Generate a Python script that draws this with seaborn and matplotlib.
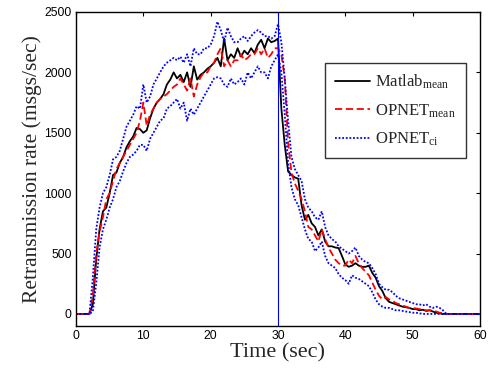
import numpy as np
import pandas as pd
import matplotlib
matplotlib.use("Agg")
import matplotlib.pyplot as plt
import seaborn as sns

# time grid (sec)
time = [i * 0.5 for i in range(121)]

matlab_mean = [
    0, 0, 0, 0, 0, 80, 450, 700, 850, 880,
    1000, 1150, 1170, 1250, 1300, 1380, 1430, 1470, 1540, 1530,
    1500, 1520, 1620, 1700, 1750, 1780, 1820, 1900, 1940, 2000,
    1950, 1980, 1920, 2000, 1880, 2050, 1940, 1980, 2000, 2030,
    2050, 2080, 2120, 2050, 2280, 2100, 2150, 2120, 2200, 2130,
    2180, 2150, 2200, 2160, 2230, 2270, 2200, 2280, 2250, 2260,
    2280, 1700, 1400, 1180, 1150, 1130, 1120, 900, 780, 820,
    750, 720, 650, 700, 600, 560, 560, 550, 545, 480,
    410, 390, 400, 420, 400, 390, 390, 400, 340, 300,
    230, 190, 130, 100, 90, 80, 70, 60, 55, 50,
    40, 40, 30, 35, 25, 30, 20, 10, 5, 0,
    0, 0, 0, 0, 0, 0, 0, 0, 0, 0,
    0,
]

opnet_mean = [
    0, 0, 0, 0, 0, 150, 500, 680, 800, 950,
    1000, 1100, 1200, 1250, 1300, 1350, 1400, 1450, 1500, 1600,
    1750, 1560, 1650, 1700, 1750, 1780, 1800, 1820, 1850, 1880,
    1900, 1950, 1900, 1850, 1950, 1800, 1900, 1960, 2000, 2000,
    2050, 2080, 2150, 2200, 2050, 2100, 2050, 2100, 2100, 2150,
    2100, 2120, 2150, 2150, 2200, 2150, 2200, 2120, 2150, 2200,
    2200, 2150, 1950, 1420, 1170, 1080, 1020, 950, 850, 720,
    700, 650, 600, 700, 620, 550, 500, 450, 420, 400,
    400, 450, 420, 480, 420, 380, 350, 320, 260, 200,
    150, 120, 140, 120, 110, 90, 80, 70, 60, 50,
    50, 45, 40, 35, 30, 30, 30, 20, 10, 5,
    0, 0, 0, 0, 0, 0, 0, 0, 0, 0,
    0,
]

opnet_ci_upper = [
    0, 0, 0, 0, 0, 300, 700, 880, 1000, 1050,
    1150, 1280, 1300, 1350, 1450, 1550, 1600, 1650, 1720, 1700,
    1900, 1750, 1800, 1900, 1950, 2000, 2050, 2080, 2100, 2120,
    2100, 2130, 2080, 2150, 2050, 2200, 2150, 2150, 2200, 2200,
    2230, 2300, 2420, 2350, 2250, 2370, 2300, 2250, 2250, 2280,
    2300, 2260, 2300, 2330, 2350, 2330, 2300, 2300, 2280, 2300,
    2400, 2250, 1950, 1600, 1300, 1200, 1150, 1100, 950, 880,
    850, 800, 780, 850, 720, 650, 620, 600, 560, 540,
    520, 500, 520, 550, 480, 450, 430, 420, 380, 330,
    250, 220, 200, 200, 180, 150, 130, 120, 110, 100,
    90, 80, 80, 70, 80, 60, 50, 60, 50, 30,
    0, 0, 0, 0, 0, 0, 0, 0, 0, 0,
    0,
]

opnet_ci_lower = [
    0, 0, 0, 0, 0, 20, 250, 550, 700, 780,
    880, 950, 1050, 1100, 1180, 1250, 1300, 1320, 1350, 1400,
    1400, 1350, 1450, 1500, 1550, 1600, 1620, 1700, 1720, 1750,
    1780, 1700, 1750, 1600, 1700, 1650, 1700, 1750, 1800, 1850,
    1900, 1950, 1960, 1950, 1900, 1880, 1950, 1900, 1920, 1950,
    1900, 2000, 1950, 2000, 2050, 2000, 2000, 1950, 2050, 2100,
    2150, 2000, 1650, 1250, 1050, 950, 900, 800, 700, 620,
    600, 520, 550, 600, 480, 420, 400, 380, 330, 300,
    280, 250, 320, 300, 290, 270, 250, 230, 180, 120,
    80, 60, 50, 50, 40, 30, 30, 25, 20, 15,
    10, 10, 5, 0, 0, 0, 0, 0, 0, 0,
    0, 0, 0, 0, 0, 0, 0, 0, 0, 0,
    0,
]

x_ticks = [0, 10, 20, 30, 40, 50, 60]
y_ticks = [0, 500, 1000, 1500, 2000, 2500]
event_time = 30

sns.set_style("white")
plt.rcParams["mathtext.fontset"] = "custom"
plt.rcParams["mathtext.rm"] = "Liberation Serif"
plt.rcParams["mathtext.it"] = "Liberation Serif:italic"

fig = plt.figure(figsize=(4.88, 3.69), dpi=100)
ax = fig.add_axes([76 / 488, 1 - 326 / 369, (480 - 76) / 488, (326 - 12) / 369])

sns.lineplot(x=time, y=matlab_mean, ax=ax, color="black", lw=1.3,
             label=r"Matlab$_{\mathrm{mean}}$")
sns.lineplot(x=time, y=opnet_mean, ax=ax, color="red", lw=1.3,
             linestyle=(0, (4, 2)), label=r"OPNET$_{\mathrm{mean}}$")
sns.lineplot(x=time, y=opnet_ci_upper, ax=ax, color="blue", lw=1.3,
             linestyle=(0, (1, 1)), label=r"OPNET$_{\mathrm{ci}}$")
sns.lineplot(x=time, y=opnet_ci_lower, ax=ax, color="blue", lw=1.3,
             linestyle=(0, (1, 1)))
ax.axvline(event_time, color="blue", lw=0.8)

ax.set_xlim(0, 60)
ax.set_ylim(-100, 2500)
ax.set_xticks(x_ticks)
ax.set_yticks(y_ticks)
for lab in ax.get_xticklabels() + ax.get_yticklabels():
    lab.set_family("Liberation Sans")
    lab.set_fontsize(8.8)
ax.tick_params(direction="in", length=3, width=0.8, top=True, right=True,
               colors="black", pad=3)
for s in ax.spines.values():
    s.set_color("black")
    s.set_linewidth(1.0)

ax.set_xlabel("Time (sec)", family="Liberation Serif", fontsize=16, labelpad=1)
ax.set_ylabel("Retransmission rate (msgs/sec)", family="Liberation Serif",
              fontsize=15.5, labelpad=2)

leg = ax.legend(loc="upper left", bbox_to_anchor=((325 - 76) / 404, (326 - 63) / 314),
                prop={"family": "Liberation Serif", "size": 12},
                frameon=True, fancybox=False, edgecolor="black",
                handlelength=2.1, borderpad=0.6, labelspacing=0.65,
                handletextpad=0.3, borderaxespad=0)
leg.get_frame().set_linewidth(1.0)

fig.savefig("out.png", dpi=100)
